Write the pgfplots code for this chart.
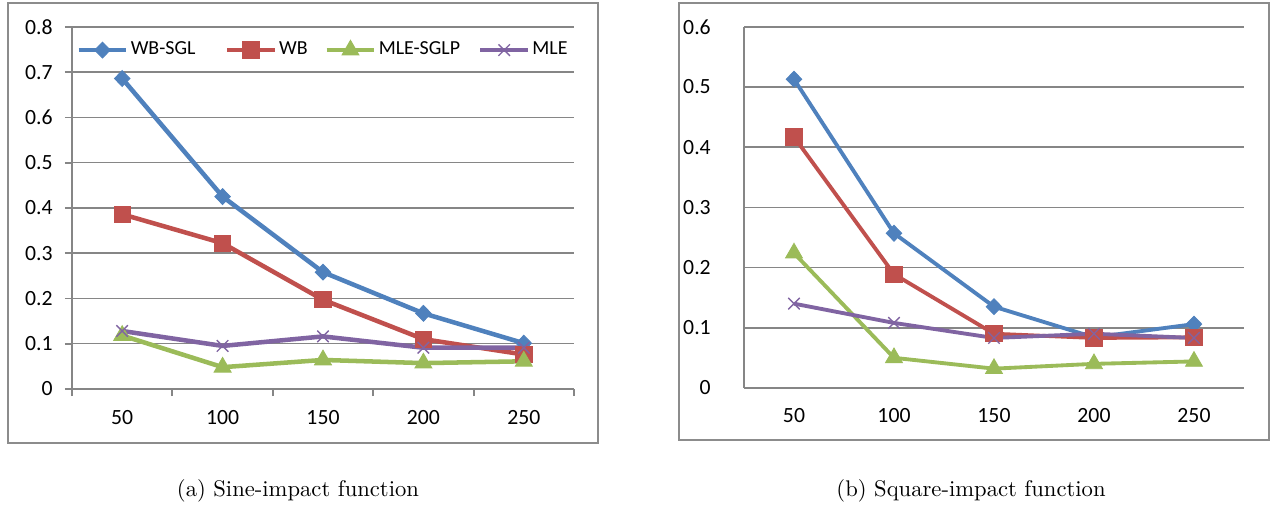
\documentclass[border=0pt]{standalone}
\usepackage{fontspec}
\usepackage{pgfplots}
\pgfplotsset{compat=1.18}
\newfontfamily\calibri{Carlito}
\definecolor{cBlue}{HTML}{4F81BD}
\definecolor{cRed}{HTML}{C0504D}
\definecolor{cGreen}{HTML}{9BBB59}
\definecolor{cPurple}{HTML}{8064A2}
\definecolor{cGrid}{HTML}{868686}
\definecolor{cBox}{HTML}{8C8C8C}
\pgfplotsset{
  excel/.style={
    scale only axis,
    axis x line*=bottom, axis y line*=left,
    axis line style={cGrid, line width=0.9pt, -},
    ymajorgrids, grid style={cGrid, line width=0.7pt},
    xmin=0.5, xmax=5.5, ymin=0,
    tick align=outside,
    major tick length=3.2pt,
    tick style={cGrid, line width=0.8pt},
    ticklabel style={font=\calibri\fontsize{9.6}{11}\selectfont, inner sep=0pt},
    yticklabel style={anchor=east, xshift=-5.2pt},
    clip=false,
    legend image code/.code={\draw[mark repeat=2,mark phase=2,#1] plot coordinates {(0pt,0pt) (10.5pt,0pt) (21pt,0pt)};},
  },
  sBlue/.style={cBlue, line width=2pt, mark=diamond*, mark size=3.5pt, mark options={xscale=1.3, solid, line width=0.4pt, fill=cBlue}},
  sRed/.style={cRed, line width=2pt, mark=square*, mark size=3.6pt, mark options={solid, line width=0.4pt, fill=cRed}},
  sGreen/.style={cGreen, line width=2pt, mark=triangle*, mark size=4.3pt, mark options={solid, line width=0.4pt, fill=cGreen}},
  sPurple/.style={cPurple, line width=2pt, mark=x, mark size=3.6pt, mark options={solid, line width=0.6pt}},
}
\begin{document}
\begin{tikzpicture}
\path[use as bounding box] (0pt,0pt) rectangle (564pt,224.5pt);
\draw[cBox, line width=0.7pt] (3.54pt,28.73pt) rectangle (264.32pt,223.21pt);
\draw[cBox, line width=0.7pt] (300.12pt,30.06pt) rectangle (560.90pt,223.21pt);

\begin{axis}[excel,
  at={(31.82pt,52.60pt)}, anchor=south west,
  width=221.9pt, height=160.0pt,
  ymax=0.8,
  ytick={0,0.1,0.2,0.3,0.4,0.5,0.6,0.7,0.8},
  yticklabels={0,0.1,0.2,0.3,0.4,0.5,0.6,0.7,0.8},
  xtick={0.5,1.5,2.5,3.5,4.5,5.5},
  xticklabels={},
  extra x ticks={1,2,3,4,5},
  extra x tick labels={50,100,150,200,250},
  extra x tick style={major tick length=0pt, xticklabel style={anchor=north, yshift=-9.4pt}},
  legend columns=4,
  legend style={at={(0.008,0.936)}, anchor=west, draw=none, fill=none,
    font=\calibri\fontsize{8.8}{10}\selectfont,
    inner xsep=0pt, inner ysep=1pt,
    nodes={inner sep=1pt},
    column sep=0pt,
    /tikz/column 2/.style={column sep=12pt},
    /tikz/column 4/.style={column sep=6.4pt},
    /tikz/column 6/.style={column sep=7pt}},
]
\addplot[sBlue] coordinates {(1,0.686) (2,0.425) (3,0.258) (4,0.167) (5,0.101)};
\addlegendentry{WB-SGL}
\addplot[sRed] coordinates {(1,0.386) (2,0.322) (3,0.197) (4,0.110) (5,0.076)};
\addlegendentry{WB}
\addplot[sGreen] coordinates {(1,0.118) (2,0.048) (3,0.064) (4,0.057) (5,0.061)};
\addlegendentry{MLE-SGLP}
\addplot[sPurple] coordinates {(1,0.128) (2,0.095) (3,0.116) (4,0.091) (5,0.091)};
\addlegendentry{MLE}
\end{axis}

\begin{axis}[excel,
  at={(328.85pt,53.04pt)}, anchor=south west,
  width=221.0pt, height=159.6pt,
  ymax=0.6,
  major tick length=0pt,
  yticklabel style={xshift=-9.3pt},
  ytick={0,0.1,0.2,0.3,0.4,0.5,0.6},
  yticklabels={0,0.1,0.2,0.3,0.4,0.5,0.6},
  xtick={1,2,3,4,5},
  xticklabels={50,100,150,200,250},
  xticklabel style={anchor=north, yshift=-9.0pt},
  sBlue/.append style={line width=1.7pt},
  sRed/.append style={line width=1.7pt},
  sGreen/.append style={line width=1.7pt},
  sPurple/.append style={line width=1.7pt},
]
\addplot[sBlue] coordinates {(1,0.513) (2,0.257) (3,0.135) (4,0.084) (5,0.106)};
\addplot[sRed] coordinates {(1,0.417) (2,0.189) (3,0.090) (4,0.083) (5,0.084)};
\addplot[sGreen] coordinates {(1,0.224) (2,0.050) (3,0.032) (4,0.040) (5,0.044)};
\addplot[sPurple] coordinates {(1,0.140) (2,0.108) (3,0.083) (4,0.090) (5,0.083)};
\end{axis}

\node[anchor=center] at (131.7pt,7.5pt) {(a) Sine-impact function};
\node[anchor=center] at (429.2pt,7.5pt) {(b) Square-impact function};
\end{tikzpicture}
\end{document}
